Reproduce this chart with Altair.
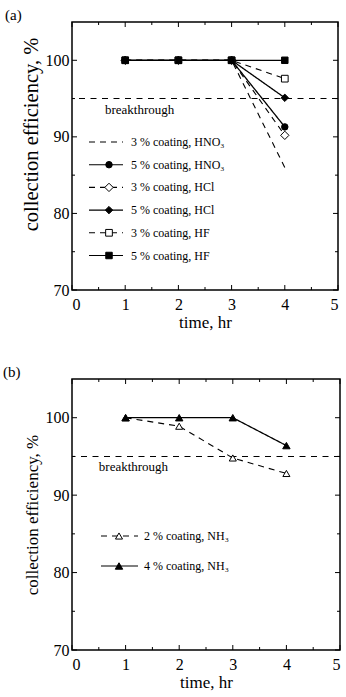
import altair as alt
import pandas as pd

# ---- values ----
time_hr = [1, 2, 3, 4]

# panel (a): acid gases
hno3_3 = [100, 100, 100, 86.0]
hno3_5 = [100, 100, 100, 91.3]
hcl_3 = [100, 100, 100, 90.2]
hcl_5 = [100, 100, 100, 95.1]
hf_3 = [100, 100, 100, 97.6]
hf_5 = [100, 100, 100, 100.0]

# panel (b): ammonia
nh3_2 = [100, 98.9, 94.8, 92.8]
nh3_4 = [100, 100, 100, 96.4]

labels_a = ["3 % coating, HNO₃", "5 % coating, HNO₃", "3 % coating, HCl",
            "5 % coating, HCl", "3 % coating, HF", "5 % coating, HF"]
labels_b = ["2 % coating, NH₃", "4 % coating, NH₃"]

breakthrough = 95
x_ticks = [0, 1, 2, 3, 4, 5]
x_minor = [0.5, 1.5, 2.5, 3.5, 4.5]
y_ticks = [70, 80, 90, 100]
y_minor = [75, 85, 95]

FONT = "Liberation Serif"
DASH = [6, 5]

X_SCALE = alt.Scale(domain=[0, 5], nice=False)
Y_SCALE = alt.Scale(domain=[70, 105], nice=False, zero=False)
X_AXIS = alt.Axis(values=x_ticks, title="time, hr", format="d", grid=False,
                  ticks=False, domain=False, labelFont=FONT, labelFontSize=16,
                  labelColor="black", labelPadding=6, titleFont=FONT,
                  titleFontSize=17, titleFontWeight="normal", titleColor="black",
                  titlePadding=2)


def make_y_axis(title_size, title_y=None):
    extra = {} if title_y is None else {"titleY": title_y}
    return alt.Axis(values=y_ticks, title="collection efficiency, %", grid=False,
                    ticks=False, domain=False, labelFont=FONT, labelFontSize=16,
                    labelColor="black", labelPadding=3, titleFont=FONT,
                    titleFontSize=title_size, titleFontWeight="normal",
                    titleColor="black", titlePadding=4, **extra)


def xq(field):
    return alt.X(field, type="quantitative", scale=X_SCALE, axis=X_AXIS)


def long_table(series_vals, names, sizes):
    rows = []
    for name, vals, s in zip(names, series_vals, sizes):
        for t, v in zip(time_hr, vals):
            rows.append({"time": t, "eff": v, "series": name, "msize": s})
    return pd.DataFrame(rows)


def frame_ticks(W, H, yq):
    """Inward ticks on all four sides of the frame."""
    maj_x = pd.DataFrame({"time": x_ticks})
    min_x = pd.DataFrame({"time": x_minor})
    maj_y = pd.DataFrame({"eff": y_ticks})
    min_y = pd.DataFrame({"eff": y_minor})
    layers = []
    for df, L in ((maj_x, 5), (min_x, 3)):
        base = alt.Chart(df).mark_rule(color="black", strokeWidth=1)
        layers.append(base.encode(x=xq("time"), y=alt.value(H), y2=alt.value(H - L)))
        layers.append(base.encode(x=xq("time"), y=alt.value(0), y2=alt.value(L)))
    for df, L in ((maj_y, 5), (min_y, 3)):
        base = alt.Chart(df).mark_rule(color="black", strokeWidth=1)
        layers.append(base.encode(y=yq("eff"), x=alt.value(0), x2=alt.value(L)))
        layers.append(base.encode(y=yq("eff"), x=alt.value(W), x2=alt.value(W - L)))
    return layers


def panel(tag, series_vals, names, labels, dashes, shapes, fills, sizes,
          W, H, leg_x0, leg_x1, leg_mark_x, leg_text_x, leg_y0, leg_dy,
          bt_x, bt_y, tag_dx, y_title_size, y_title_y=None):
    data = long_table(series_vals, names, sizes)
    dashed = [n for n, d in zip(names, dashes) if d != [1, 0]]
    solid = [n for n, d in zip(names, dashes) if d == [1, 0]]
    y_axis = make_y_axis(y_title_size, y_title_y)

    def yq(field):
        return alt.Y(field, type="quantitative", scale=Y_SCALE, axis=y_axis)

    dash_enc = alt.StrokeDash("series:N", scale=alt.Scale(domain=names, range=dashes),
                              legend=None)
    shape_enc = alt.Shape("series:N", scale=alt.Scale(domain=names, range=shapes), legend=None)
    fill_enc = alt.Fill("series:N", scale=alt.Scale(domain=names, range=fills), legend=None)
    size_enc = alt.Size("msize:Q", scale=None, legend=None)

    base = alt.Chart(data).encode(x=xq("time"), y=yq("eff"))
    lines_dashed = base.transform_filter(
        alt.FieldOneOfPredicate(field="series", oneOf=dashed)
    ).mark_line(color="black", strokeWidth=1.1).encode(strokeDash=dash_enc, detail="series:N")
    lines_solid = base.transform_filter(
        alt.FieldOneOfPredicate(field="series", oneOf=solid)
    ).mark_line(color="black", strokeWidth=1.3).encode(strokeDash=dash_enc, detail="series:N")
    points = base.mark_point(filled=True, stroke="black", strokeWidth=1, opacity=1).encode(
        shape=shape_enc, fill=fill_enc, size=size_enc)

    bt_line = alt.Chart(pd.DataFrame({"eff": [breakthrough]})).mark_rule(
        color="black", strokeWidth=1.1, strokeDash=[6, 5.5]).encode(y=yq("eff"))
    bt_text = alt.Chart(pd.DataFrame({"time": [bt_x], "eff": [bt_y], "t": ["breakthrough"]})).mark_text(
        align="left", baseline="middle", font=FONT, fontSize=13, color="black").encode(
        x=xq("time"), y=yq("eff"), text="t:N")

    leg = pd.DataFrame({"series": names, "label": labels, "msize": sizes})
    leg["ly"] = [leg_y0 + i * leg_dy for i in range(len(names))]
    leg_base = alt.Chart(leg).encode(y=alt.Y("ly:Q", scale=None, axis=None))
    leg_lines = leg_base.mark_rule(color="black", strokeWidth=1.1).encode(
        x=alt.value(leg_x0), x2=alt.value(leg_x1), strokeDash=dash_enc)
    leg_marks = leg_base.mark_point(filled=True, stroke="black", strokeWidth=1, opacity=1).encode(
        x=alt.value(leg_mark_x), shape=shape_enc, fill=fill_enc, size=size_enc)
    leg_text = leg_base.mark_text(align="left", baseline="middle", font=FONT, fontSize=12,
                                  color="black").encode(x=alt.value(leg_text_x), text="label:N")

    tag_text = alt.Chart(pd.DataFrame({"t": [tag]})).mark_text(
        align="left", baseline="middle", font=FONT, fontSize=15, color="black").encode(
        x=alt.value(tag_dx), y=alt.value(-7), text="t:N")

    layers = ([lines_dashed, lines_solid, bt_line] + frame_ticks(W, H, yq) +
              [points, bt_text, leg_lines, leg_marks, leg_text, tag_text])
    return alt.layer(*layers).properties(width=W, height=H)


panel_a = panel(
    "(a)",
    [hno3_3, hno3_5, hcl_3, hcl_5, hf_3, hf_5],
    ["hno3_3", "hno3_5", "hcl_3", "hcl_5", "hf_3", "hf_5"],
    labels_a,
    [DASH, [1, 0], DASH, [1, 0], DASH, [1, 0]],
    ["circle", "circle", "diamond", "diamond", "square", "square"],
    ["black", "black", "white", "black", "white", "black"],
    [0, 42, 70, 55, 45, 42],
    W=266, H=268, leg_x0=17, leg_x1=51, leg_mark_x=37, leg_text_x=59,
    leg_y0=120, leg_dy=22.7, bt_x=0.62, bt_y=93.5, tag_dx=-67,
    y_title_size=20.5, y_title_y=112,
)

panel_b = panel(
    "(b)",
    [nh3_2, nh3_4],
    ["nh3_2", "nh3_4"],
    labels_b,
    [DASH, [1, 0]],
    ["triangle-up", "triangle-up"],
    ["white", "black"],
    [50, 55],
    W=268, H=271, leg_x0=29, leg_x1=66, leg_mark_x=47, leg_text_x=72,
    leg_y0=157, leg_dy=30, bt_x=0.5, bt_y=93.6, tag_dx=-69,
    y_title_size=17,
)

chart = alt.vconcat(panel_a, panel_b, spacing=33).resolve_scale(
    x="independent", y="independent",
    shape="independent", fill="independent", strokeDash="independent",
).resolve_axis(
    x="independent", y="independent",
).properties(
    padding={"left": 2, "top": 7, "right": 4, "bottom": 2},
    background="white",
).configure_view(
    stroke="black", strokeWidth=1.5
).configure_axis(
    grid=False, ticks=False, domain=False,
    labelFont=FONT, labelColor="black",
    titleFont=FONT, titleFontWeight="normal", titleColor="black",
)

chart.save("out.html", embed_options={"renderer": "svg", "actions": False})
